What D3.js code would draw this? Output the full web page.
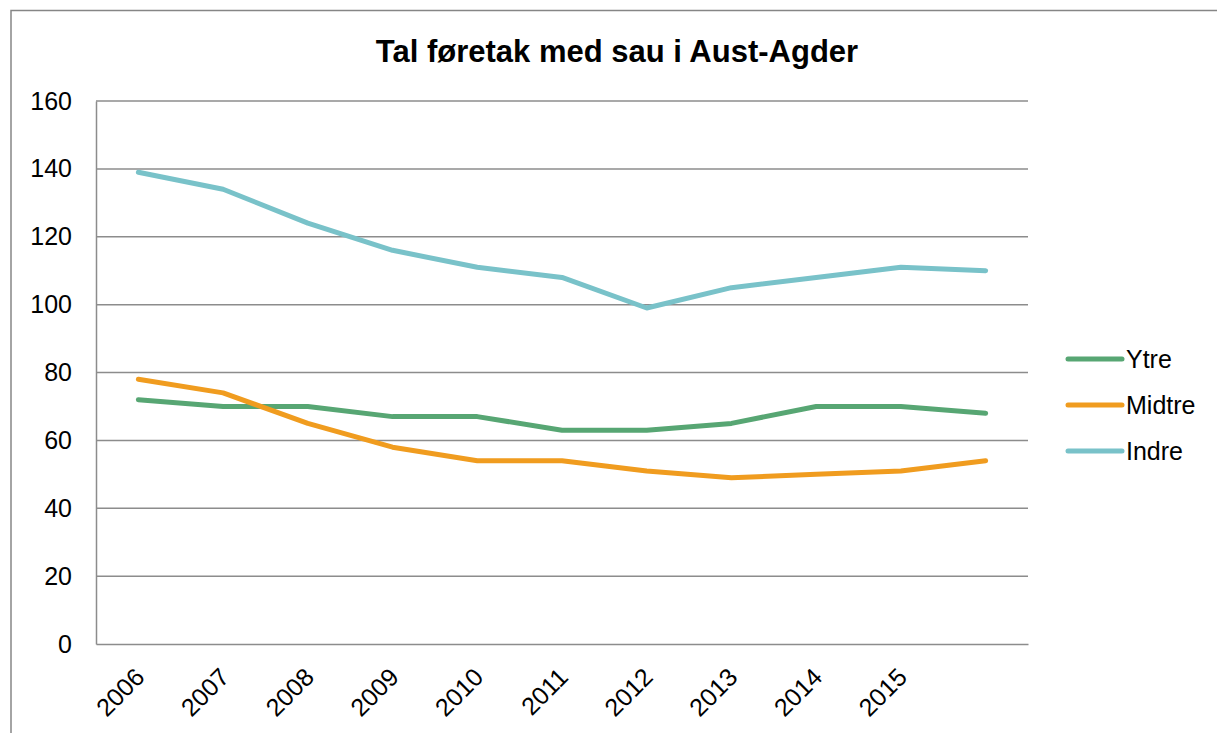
<!DOCTYPE html>
<html>
<head>
<meta charset="utf-8">
<script src="https://cdn.jsdelivr.net/npm/d3@7"></script>
<style>
  body { margin: 0; background: #fff; }
  svg { font-family: "Liberation Sans", Arial, sans-serif; }
</style>
</head>
<body>
<script>
// data
const years = ["2006", "2007", "2008", "2009", "2010", "2011", "2012", "2013", "2014", "2015", ""];
const ytre   = [72, 70, 70, 67, 67, 63, 63, 65, 70, 70, 68];
const midtre = [78, 74, 65, 58, 54, 54, 51, 49, 50, 51, 54];
const indre  = [139, 134, 124, 116, 111, 108, 99, 105, 108, 111, 110];
const seriesNames = ["Ytre", "Midtre", "Indre"];
const yTicks = [0, 20, 40, 60, 80, 100, 120, 140, 160];

const series = [
  {name: seriesNames[0], values: ytre,   color: "#57a673"},
  {name: seriesNames[1], values: midtre, color: "#f09c1f"},
  {name: seriesNames[2], values: indre,  color: "#79c2c9"}
];

const W = 1217, H = 733;
const margin = {top: 101, left: 96, bottom: 89, right: 189};
const width = W - margin.left - margin.right;
const height = H - margin.top - margin.bottom;

const root = d3.select("body").append("svg")
  .attr("width", W)
  .attr("height", H);

// outer chart frame
root.append("rect")
  .attr("x", 11).attr("y", 10.5)
  .attr("width", W + 20).attr("height", H + 20)
  .attr("fill", "none")
  .attr("stroke", "#868686")
  .attr("stroke-width", 1.5);

root.append("text")
  .attr("x", 617).attr("y", 62)
  .attr("text-anchor", "middle")
  .style("font-size", "31px")
  .style("font-weight", "bold")
  .text("Tal føretak med sau i Aust-Agder");

const svg = root.append("g")
  .attr("transform", "translate(" + margin.left + "," + margin.top + ")");

const x = d3.scaleBand().domain(d3.range(years.length)).range([0, width]);
const y = d3.scaleLinear().domain([0, 160]).range([height, 0]);
const cx = i => x(i) + x.bandwidth() / 2;

// gridlines
svg.append("g")
  .selectAll("line")
  .data(yTicks.filter(d => d > 0))
  .enter().append("line")
  .attr("x1", 0).attr("x2", width)
  .attr("y1", d => y(d)).attr("y2", d => y(d))
  .attr("stroke", "#8c8c8c")
  .attr("stroke-width", 1.5);

// y axis
const yAxis = svg.append("g")
  .call(d3.axisLeft(y).tickValues(yTicks).tickSize(0).tickPadding(24));
yAxis.select(".domain").attr("stroke", "#8c8c8c").attr("stroke-width", 1.5);
yAxis.selectAll("text").style("font-size", "25px").attr("fill", "#000")
  .style("font-family", "Liberation Sans, Arial, sans-serif");

// x axis
const xAxis = svg.append("g")
  .attr("transform", "translate(0," + height + ")")
  .call(d3.axisBottom(x).tickFormat(i => years[i]).tickSize(0));
xAxis.select(".domain").attr("stroke", "#8c8c8c").attr("stroke-width", 1.5);
xAxis.selectAll("text")
  .style("font-size", "25px").attr("fill", "#000")
  .style("font-family", "Liberation Sans, Arial, sans-serif")
  .attr("text-anchor", "end")
  .attr("dy", null).attr("y", 0)
  .attr("transform", "translate(3,30) rotate(-45)")
  .attr("dominant-baseline", "middle");

// lines
const line = d3.line()
  .x((d, i) => cx(i))
  .y(d => y(d));

svg.selectAll(".series")
  .data(series)
  .enter().append("path")
  .attr("class", "series")
  .attr("d", d => line(d.values))
  .attr("fill", "none")
  .attr("stroke", d => d.color)
  .attr("stroke-width", 5)
  .attr("stroke-linecap", "round")
  .attr("stroke-linejoin", "round");

// legend
const legend = root.append("g").attr("class", "legend");
const lg = legend.selectAll("g")
  .data(series)
  .enter().append("g")
  .attr("transform", (d, i) => "translate(1068," + (359 + i * 46) + ")");
lg.append("line")
  .attr("x1", 0).attr("x2", 54)
  .attr("stroke", d => d.color)
  .attr("stroke-width", 5)
  .attr("stroke-linecap", "round");
lg.append("text")
  .attr("x", 58).attr("y", 0)
  .attr("dy", "0.35em")
  .style("font-size", "25px")
  .text(d => d.name);
</script>
</body>
</html>
